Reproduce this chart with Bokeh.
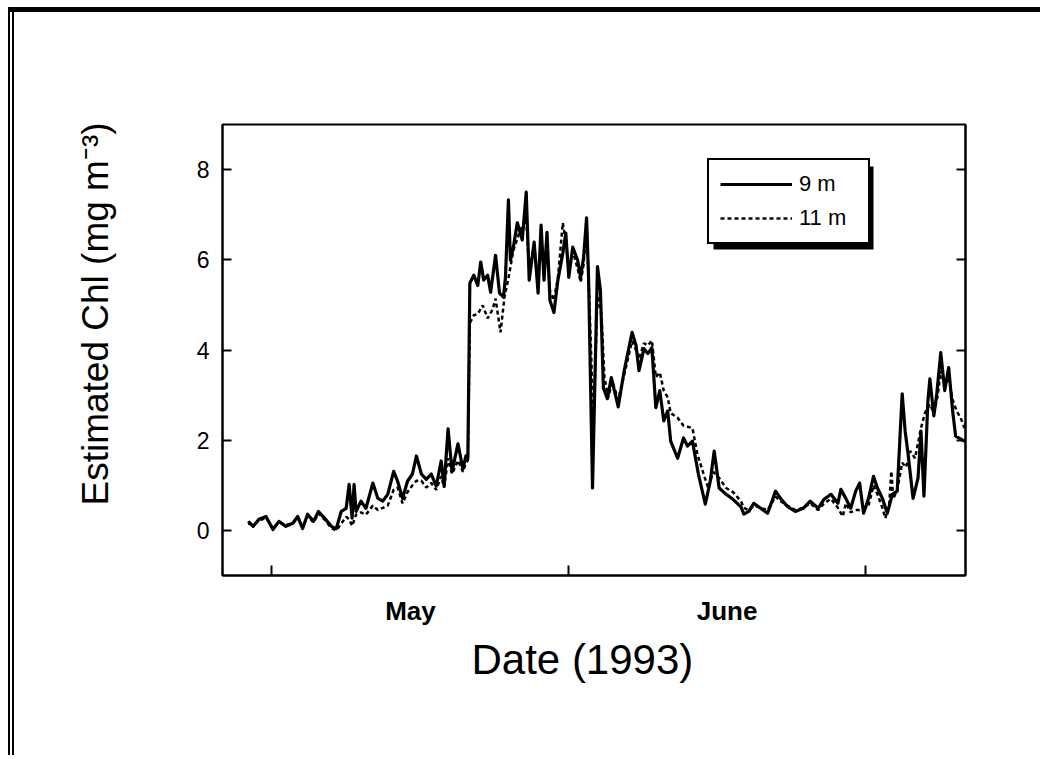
from bokeh.plotting import figure
from bokeh.models import (FixedTicker, LinearAxis, Legend, LegendItem, Title,
                          BoxAnnotation, Range1d)
from bokeh.embed import file_html
from bokeh.resources import INLINE

# ---------------- data (day of year 1993, estimated Chl mg m-3) ----------------
day_9m = [117.6, 118.1, 118.7, 119.4, 120.1, 120.7, 121.4, 122.1, 122.6, 123.1,
          123.6, 124.2, 124.7, 125.4, 126.0, 126.5, 127.0, 127.5, 127.8, 128.1,
          128.3, 128.5, 129.0, 129.5, 130.2, 130.7, 131.2, 131.7, 132.3, 132.7,
          133.2, 133.7, 134.2, 134.6, 135.1, 135.6, 136.1, 136.6, 137.1, 137.4,
          137.8, 138.2, 138.8, 139.3, 139.6, 139.8, 140.0, 140.4, 140.8, 141.1,
          141.4, 141.8, 142.1, 142.6, 143.0, 143.4, 143.6, 143.9, 144.1, 144.4,
          144.8, 145.3, 145.7, 146.0, 146.5, 146.9, 147.2, 147.5, 147.8, 148.1,
          148.5, 148.9, 149.4, 149.7, 150.0, 150.4, 150.9, 151.2, 151.5, 151.8,
          152.0, 152.4, 152.9, 153.2, 153.5, 153.9, 154.3, 155.0, 155.6, 156.4,
          156.8, 157.1, 157.6, 158.0, 158.4, 158.8, 159.2, 159.6, 160.0, 160.3,
          161.0, 161.6, 162.0, 162.5, 163.1, 163.8, 164.3, 164.7, 165.2, 165.9,
          166.6, 167.4, 167.7, 168.2, 168.7, 169.4, 170.1, 170.9, 171.4, 172.1,
          172.9, 173.7, 174.4, 175.2, 175.8, 176.5, 177.2, 177.5, 178.0, 178.5,
          179.0, 179.4, 179.8, 180.3, 180.8, 181.2, 181.7, 182.2, 182.7, 183.2,
          183.7, 184.0, 184.3, 184.8, 185.3, 185.6, 185.9, 186.3, 186.5, 186.9,
          187.2, 187.6, 188.0, 188.4, 188.8, 189.1, 189.6, 190.0, 190.4]
chl_9m = [0.20, 0.09, 0.25, 0.31, 0.02, 0.20, 0.09, 0.16, 0.31, 0.04,
          0.36, 0.20, 0.42, 0.25, 0.09, 0.04, 0.42, 0.49, 1.02, 0.27,
          1.02, 0.42, 0.65, 0.49, 1.05, 0.71, 0.65, 0.80, 1.31, 1.09,
          0.71, 1.09, 1.25, 1.65, 1.25, 1.13, 1.25, 0.98, 1.54, 0.98,
          2.25, 1.31, 1.92, 1.36, 1.65, 1.60, 5.48, 5.66, 5.43, 5.95,
          5.55, 5.66, 5.28, 6.10, 5.26, 5.17, 5.61, 7.33, 5.99, 6.28,
          6.82, 6.44, 7.50, 5.55, 6.39, 5.26, 6.77, 5.55, 6.61, 5.10,
          4.83, 5.55, 6.15, 6.59, 5.61, 6.28, 5.99, 5.61, 6.06, 6.93,
          5.61, 0.94, 5.85, 5.32, 3.16, 2.92, 3.39, 2.74, 3.54, 4.39,
          4.10, 3.54, 4.03, 3.92, 4.05, 2.72, 3.10, 2.43, 2.65, 1.98,
          1.60, 2.05, 1.87, 1.98, 1.25, 0.58, 1.09, 1.76, 0.94, 0.80,
          0.69, 0.52, 0.36, 0.42, 0.60, 0.49, 0.38, 0.87, 0.71, 0.53,
          0.42, 0.49, 0.65, 0.49, 0.69, 0.80, 0.60, 0.91, 0.71, 0.49,
          0.87, 1.05, 0.38, 0.71, 1.20, 0.94, 0.71, 0.38, 0.80, 0.87,
          3.03, 2.20, 1.69, 0.71, 1.16, 2.20, 0.76, 2.87, 3.36, 2.54,
          3.03, 3.94, 3.10, 3.61, 2.65, 2.09, 2.03, 1.98, 2.00]

day_11m = [117.6, 118.1, 118.7, 119.4, 120.1, 120.7, 121.4, 122.1, 122.6, 123.1,
           123.6, 124.2, 124.7, 125.4, 126.0, 126.5, 127.0, 127.5, 127.8, 128.1,
           128.5, 129.0, 129.5, 130.2, 130.7, 131.2, 131.7, 132.3, 132.7, 133.2,
           133.7, 134.2, 134.6, 135.1, 135.6, 136.1, 136.6, 137.1, 137.4, 137.8,
           138.2, 138.8, 139.3, 139.6, 139.8, 140.0, 140.4, 140.8, 141.3, 141.8,
           142.3, 142.6, 143.1, 143.5, 143.9, 144.4, 145.1, 145.7, 146.0, 146.5,
           146.9, 147.2, 147.5, 147.8, 148.1, 148.5, 148.9, 149.4, 149.7, 150.0,
           150.4, 150.9, 151.2, 151.5, 151.8, 152.0, 152.5, 152.9, 153.3, 153.6,
           154.0, 154.4, 155.0, 155.6, 156.4, 156.8, 157.1, 157.6, 158.0, 158.4,
           158.8, 159.2, 159.6, 160.0, 160.3, 161.0, 161.6, 162.0, 162.5, 163.0,
           163.7, 164.1, 164.6, 165.2, 165.9, 166.6, 167.4, 167.7, 168.2, 168.7,
           169.4, 170.1, 170.9, 171.4, 172.1, 172.9, 173.7, 174.4, 175.2, 175.8,
           176.5, 177.2, 177.7, 178.0, 178.5, 179.0, 179.4, 179.8, 180.3, 180.8,
           181.2, 181.7, 182.0, 182.4, 182.6, 182.8, 183.2, 183.7, 184.1, 184.5,
           185.0, 185.6, 186.0, 186.5, 186.9, 187.3, 187.6, 188.0, 188.4, 188.8,
           189.2, 189.6, 190.0, 190.4]
chl_11m = [0.15, 0.12, 0.22, 0.28, 0.05, 0.18, 0.12, 0.15, 0.28, 0.06,
           0.32, 0.18, 0.38, 0.22, 0.05, 0.00, 0.15, 0.30, 0.25, 0.10,
           0.35, 0.40, 0.35, 0.55, 0.45, 0.50, 0.55, 0.90, 0.95, 0.60,
           0.85, 1.00, 1.10, 1.10, 0.95, 1.05, 0.90, 1.20, 0.95, 1.60,
           1.25, 1.55, 1.30, 1.50, 1.55, 4.60, 4.77, 4.80, 4.99, 4.70,
           4.90, 5.14, 4.39, 5.17, 5.59, 6.21, 6.66, 6.90, 5.80, 6.30,
           5.50, 6.50, 5.70, 6.30, 5.30, 5.10, 5.60, 6.82, 6.40, 5.80,
           6.20, 5.80, 5.50, 5.90, 6.84, 5.60, 2.36, 5.20, 4.80, 3.40,
           2.95, 3.30, 2.90, 3.45, 4.20, 4.00, 3.80, 4.15, 4.10, 4.21,
           3.40, 3.50, 3.10, 2.95, 2.60, 2.50, 2.32, 2.30, 2.27, 1.69,
           1.20, 0.94, 1.30, 1.16, 0.94, 0.85, 0.65, 0.50, 0.45, 0.55,
           0.50, 0.45, 0.75, 0.65, 0.55, 0.45, 0.50, 0.60, 0.45, 0.60,
           0.70, 0.50, 0.31, 0.60, 0.40, 0.45, 0.45, 0.50, 0.55, 1.00,
           0.80, 0.50, 0.27, 0.60, 1.31, 0.70, 0.90, 1.50, 1.40, 1.76,
           1.60, 2.27, 2.60, 2.80, 2.60, 3.00, 3.54, 3.20, 3.40, 2.90,
           2.65, 2.50, 2.27, 2.60]

month_ticks = [120, 150, 180]
month_label_pos = [134, 166]
month_labels = ["May", "June"]
y_ticks = [0, 2, 4, 6, 8]
series_labels = ["9 m", "11 m"]
x_title = "Date (1993)"
y_title = "Estimated Chl (mg m\u207b\u00b3)"

# ---------------- layout geometry (page pixels) ----------------
FONT = "Liberation Sans"
X0, X1 = 115.0, 190.1
Y0, Y1 = -1.0, 9.0
FL, FR, FT, FB = 222, 965, 124, 575
W, H = 1040, 755


def dx(px):
    return X0 + (px - FL) * (X1 - X0) / (FR - FL)


def dy(py):
    return Y0 + (FB - py) * (Y1 - Y0) / (FB - FT)


page_frame_css = {
    "background-image": "linear-gradient(black, black), linear-gradient(black, black), "
                        "linear-gradient(black, black)",
    "background-position": "8px 7px, 8px 7px, 12px 7px",
    "background-size": "1040px 5px, 2px 800px, 2px 800px",
    "background-repeat": "no-repeat",
}

p = figure(width=W, height=H, x_range=Range1d(X0, X1), y_range=Range1d(Y0, Y1),
           output_backend="svg", toolbar_location=None,
           min_border_left=FL, min_border_right=W - FR,
           min_border_top=FT, min_border_bottom=H - FB,
           styles=page_frame_css)
p.grid.visible = False
p.background_fill_color = "white"
p.border_fill_color = "white"
p.border_fill_alpha = 0.0
p.outline_line_color = "black"
p.outline_line_width = 2

# x axis: month boundary ticks (inward) and month names between them
xa = p.xaxis[0]
xa.ticker = FixedTicker(ticks=month_label_pos, minor_ticks=month_ticks)
xa.major_label_overrides = {k: v for k, v in zip(month_label_pos, month_labels)}
xa.major_tick_in = 0
xa.major_tick_out = 0
xa.major_tick_line_color = None
xa.minor_tick_in = 10
xa.minor_tick_out = 0
xa.minor_tick_line_color = "black"
xa.minor_tick_line_width = 2
xa.axis_line_width = 2
xa.major_label_text_font = FONT
xa.major_label_text_font_style = "bold"
xa.major_label_text_font_size = "26px"
xa.major_label_text_color = "black"
xa.major_label_standoff = 20

ya = p.yaxis[0]
ya.ticker = FixedTicker(ticks=y_ticks, minor_ticks=[])
ya.major_tick_in = 9
ya.major_tick_out = 0
ya.major_tick_line_width = 2
ya.minor_tick_line_color = None
ya.axis_line_width = 2
ya.major_label_text_font = FONT
ya.major_label_text_font_size = "23px"
ya.major_label_text_color = "black"
ya.major_label_standoff = 13
# invisible spacer label pushes the y title outward
ya.axis_label = " "
ya.axis_label_text_font_size = "1px"
ya.axis_label_standoff = 69

ra = LinearAxis(ticker=FixedTicker(ticks=y_ticks, minor_ticks=[]),
                major_tick_in=9, major_tick_out=0, major_tick_line_width=2,
                minor_tick_line_color=None, axis_line_width=2,
                major_label_text_color=None, major_label_text_font_size="1px")
p.add_layout(ra, "right")

# series
r11 = p.line(day_11m, chl_11m, line_color="black", line_width=2.5,
             line_dash="4 3")
r9 = p.line(day_9m, chl_9m, line_color="black", line_width=3.2,
            line_join="round")

# legend shadow + legend
shadow = BoxAnnotation(left=dx(713), right=dx(873), top=dy(166), bottom=dy(249),
                       fill_color="black", fill_alpha=1.0, line_color=None)
p.add_layout(shadow)
legend = Legend(items=[LegendItem(label=series_labels[0], renderers=[r9]),
                       LegendItem(label=series_labels[1], renderers=[r11])],
                location=(707 - FL, FB - 244),
                border_line_color="black", border_line_width=2, border_line_alpha=1.0,
                background_fill_color="white", background_fill_alpha=1.0,
                padding=11, spacing=8, margin=0,
                glyph_width=72, glyph_height=20, label_height=20,
                label_standoff=7, label_width=58,
                label_text_font=FONT, label_text_font_size="22px",
                label_text_color="black")
p.add_layout(legend)

# axis titles
tx = Title(text=x_title, align="left", offset=249, text_font=FONT,
           text_font_size="42px", text_font_style="normal", text_color="black")
p.add_layout(tx, "below")
ty = Title(text=y_title, align="left", offset=70, text_font=FONT,
           text_font_size="37px", text_font_style="normal", text_color="black")
p.add_layout(ty, "left")

open("out.html", "w").write(file_html(p, INLINE))
